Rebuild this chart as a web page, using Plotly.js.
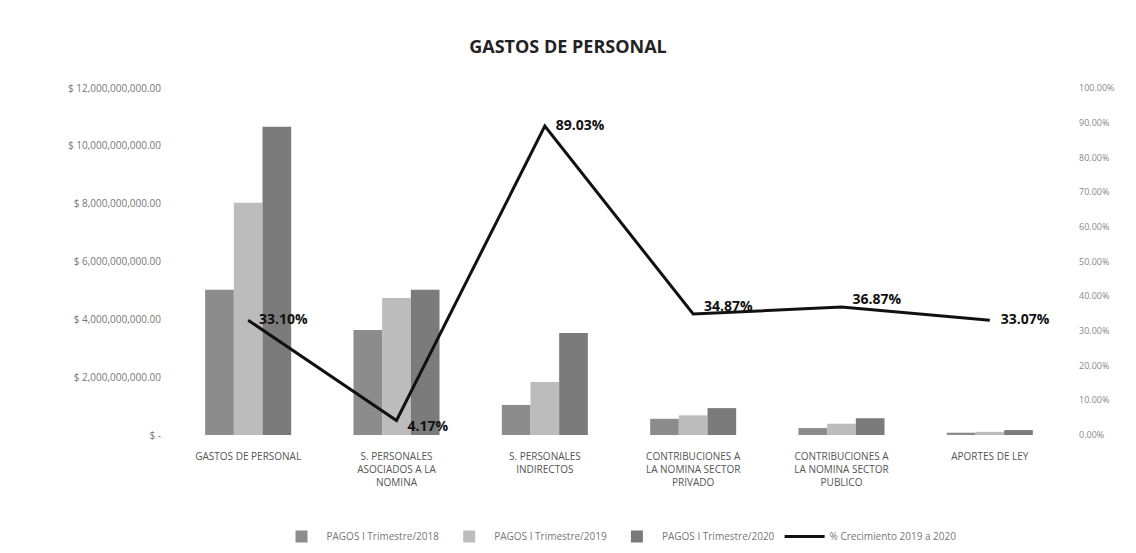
<!DOCTYPE html>
<html>
<head>
<meta charset="utf-8">
<script src="https://cdn.plot.ly/plotly-3.0.1.min.js"></script>
<style>html,body{margin:0;padding:0;background:#fff;}#chart{width:1136px;height:553px;}</style>
</head>
<body>
<div id="chart"></div>
<script>
const categories = [
  "GASTOS DE PERSONAL",
  "S. PERSONALES<br>ASOCIADOS A LA<br>NOMINA",
  "S. PERSONALES<br>INDIRECTOS",
  "CONTRIBUCIONES A<br>LA NOMINA SECTOR<br>PRIVADO",
  "CONTRIBUCIONES A<br>LA NOMINA SECTOR<br>PUBLICO",
  "APORTES DE LEY"
];
const pagos2018 = [5020000000, 3630000000, 1040000000, 560000000, 240000000, 80000000];
const pagos2019 = [8030000000, 4740000000, 1830000000, 680000000, 390000000, 110000000];
const pagos2020 = [10660000000, 5020000000, 3530000000, 930000000, 580000000, 170000000];
const variacion = [0.3310, 0.0417, 0.8903, 0.3487, 0.3687, 0.3307];
const variacionLabels = ["33.10%", "4.17%", "89.03%", "34.87%", "36.87%", "33.07%"];
const seriesNames = ["PAGOS I Trimestre/2018", "PAGOS I Trimestre/2019", "PAGOS I Trimestre/2020", "% Crecimiento 2019 a 2020"];
const leftTickVals = [0, 2e9, 4e9, 6e9, 8e9, 10e9, 12e9];
const leftTickText = ["$ -", "$ 2,000,000,000.00", "$ 4,000,000,000.00", "$ 6,000,000,000.00", "$ 8,000,000,000.00", "$ 10,000,000,000.00", "$ 12,000,000,000.00"];
const rightTickVals = [0, 0.1, 0.2, 0.3, 0.4, 0.5, 0.6, 0.7, 0.8, 0.9, 1.0];
const rightTickText = ["0.00%", "10.00%", "20.00%", "30.00%", "40.00%", "50.00%", "60.00%", "70.00%", "80.00%", "90.00%", "100.00%"];

const font = "Open Sans, DejaVu Sans, sans-serif";
const traces = [
  {type: "bar", x: categories, y: pagos2018, name: seriesNames[0], marker: {color: "#8c8c8c"}},
  {type: "bar", x: categories, y: pagos2019, name: seriesNames[1], marker: {color: "#bcbcbc"}},
  {type: "bar", x: categories, y: pagos2020, name: seriesNames[2], marker: {color: "#7b7b7b"}},
  {type: "scatter", mode: "lines+text", x: categories, y: variacion, yaxis: "y2", name: seriesNames[3],
   line: {color: "#111111", width: 3},
   text: variacionLabels,
   texttemplate: "   %{text}",
   textposition: ["middle right", "bottom right", "middle right", "top right", "top right", "middle right"],
   textfont: {family: font, size: 14, color: "#111111", weight: "bold"},
   cliponaxis: false}
];
const layout = {
  width: 1136, height: 553,
  paper_bgcolor: "#ffffff", plot_bgcolor: "#ffffff",
  margin: {l: 174, r: 72, t: 88, b: 118},
  title: {text: "GASTOS DE PERSONAL", x: 0.5, xanchor: "center", y: 0.915, yanchor: "middle",
          font: {family: font, size: 18, color: "#222222", weight: "bold"}},
  barmode: "group", bargap: 0.42, bargroupgap: 0,
  showlegend: true,
  legend: {orientation: "h", x: 0.5, xanchor: "center", yref: "container", y: 0.03, yanchor: "middle",
           font: {family: font, size: 10, color: "#777777"}, itemwidth: 40},
  xaxis: {type: "category", showgrid: false, zeroline: false, showline: false, ticks: "", automargin: false,
          tickfont: {family: font, size: 10, color: "#555555"}, ticklabelstandoff: 14},
  yaxis: {range: [0, 12e9], tickvals: leftTickVals, ticktext: leftTickText, showgrid: false, zeroline: false, automargin: false,
          showline: false, ticks: "", tickfont: {family: font, size: 10, color: "#777777"}, ticklabelstandoff: 12},
  yaxis2: {range: [0, 1], overlaying: "y", side: "right", tickvals: rightTickVals, ticktext: rightTickText, automargin: false,
           showgrid: false, zeroline: false, showline: false, ticks: "",
           tickfont: {family: font, size: 9, color: "#888888"}, ticklabelstandoff: 14}
};
Plotly.newPlot("chart", traces, layout, {displayModeBar: false, staticPlot: true});
</script>
</body>
</html>
